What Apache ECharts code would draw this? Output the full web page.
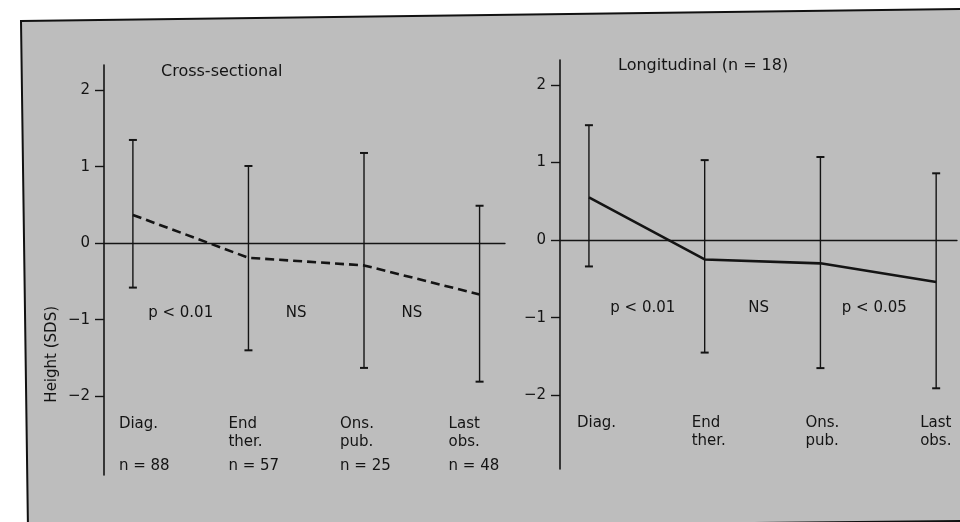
<!DOCTYPE html>
<html>
<head>
<meta charset="utf-8">
<script src="https://cdn.jsdelivr.net/npm/echarts@6/dist/echarts.min.js"></script>
<style>html,body{margin:0;padding:0;background:#fff}#c{width:960px;height:522px}</style>
</head>
<body>
<div id="c"></div>
<script>
const categories = ['Diag.', 'End\nther.', 'Ons.\npub.', 'Last\nobs.'];
const crossN = ['n = 88', 'n = 57', 'n = 25', 'n = 48'];
const crossMean = [0.37, -0.19, -0.29, -0.67];
const crossUpper = [1.35, 1.01, 1.18, 0.49];
const crossLower = [-0.58, -1.40, -1.63, -1.81];
const longMean = [0.55, -0.25, -0.30, -0.54];
const longUpper = [1.48, 1.03, 1.07, 0.86];
const longLower = [-0.34, -1.45, -1.65, -1.91];
const crossP = ['p < 0.01', 'NS', 'NS'];
const longP = ['p < 0.01', 'NS', 'p < 0.05'];
const yTicks = [-2, -1, 0, 1, 2];
const titles = ['Cross-sectional', 'Longitudinal (n = 18)'];
const yName = 'Height (SDS)';

const FONT = 'DejaVu Sans';
const INK = '#141414';
const chart = echarts.init(document.getElementById('c'), null, {renderer: 'canvas'});

function errSeries(gi, upper, lower) {
  return {
    type: 'custom', xAxisIndex: gi, yAxisIndex: gi, z: 3,
    data: upper.map((u, i) => [i, u, lower[i]]),
    renderItem: function (params, api) {
      const i = api.value(0);
      const t = api.coord([i, api.value(1)]);
      const b = api.coord([i, api.value(2)]);
      const w = 4;
      const st = {stroke: INK, lineWidth: 1.4};
      return {type: 'group', children: [
        {type: 'line', shape: {x1: t[0], y1: t[1], x2: b[0], y2: b[1]}, style: st},
        {type: 'line', shape: {x1: t[0] - w, y1: t[1], x2: t[0] + w, y2: t[1]}, style: {stroke: INK, lineWidth: 2}},
        {type: 'line', shape: {x1: b[0] - w, y1: b[1], x2: b[0] + w, y2: b[1]}, style: {stroke: INK, lineWidth: 2}}
      ]};
    }
  };
}

function catLabelSeries(gi, nLabels, offsets) {
  return {
    type: 'custom', xAxisIndex: gi, yAxisIndex: gi, z: 4, silent: true,
    data: categories.map((c, i) => [i, -2]),
    renderItem: function (params, api) {
      const i = api.value(0);
      const p = api.coord([i, api.value(1)]);
      const x = p[0] + offsets[i];
      const children = [{
        type: 'text',
        style: {x: x, y: p[1] + 19, text: categories[params.dataIndex], fill: INK,
          font: '15px "' + FONT + '"', textAlign: 'left', textVerticalAlign: 'top', lineHeight: 18}
      }];
      if (nLabels) {
        children.push({type: 'text', style: {x: x, y: p[1] + 62, text: nLabels[params.dataIndex], fill: INK,
          font: '15px "' + FONT + '"', textAlign: 'left', textVerticalAlign: 'top'}});
      }
      return {type: 'group', children: children};
    }
  };
}

function pLabelSeries(gi, labels, dx, yv) {
  return {
    type: 'custom', xAxisIndex: gi, yAxisIndex: gi, z: 4, silent: true,
    data: labels.map((l, i) => [i + 0.5, yv]),
    renderItem: function (params, api) {
      const p = api.coord([api.value(0), api.value(1)]);
      return {type: 'text', style: {x: p[0] + dx, y: p[1], text: labels[params.dataIndex], fill: INK,
        font: '15px "' + FONT + '"', textAlign: 'center', textVerticalAlign: 'middle'}};
    }
  };
}

function yAxisOpt(gi, min, max) {
  return {
    type: 'value', gridIndex: gi, min: min, max: max,
    splitLine: {show: false},
    axisLine: {show: true, onZero: false, lineStyle: {color: INK, width: 1.6}},
    axisTick: {show: true, length: 9, customValues: yTicks, lineStyle: {color: INK, width: 1.4}},
    axisLabel: {customValues: yTicks, margin: 14, color: INK, fontFamily: FONT, fontSize: 15,
      formatter: v => (v < 0 ? '\u2212' + Math.abs(v) : String(v))}
  };
}
function xAxisOpt(gi, min, max) {
  return {
    type: 'value', gridIndex: gi, min: min, max: max,
    splitLine: {show: false},
    axisLine: {show: true, onZero: true, lineStyle: {color: INK, width: 1.3}},
    axisTick: {show: false}, axisLabel: {show: false}
  };
}

chart.setOption({
  backgroundColor: '#ffffff',
  animation: false,
  graphic: [
    {type: 'polygon', z: -10, shape: {points: [[21, 21], [962, 9], [962, 521], [28, 530]]},
      style: {fill: '#bdbdbd', stroke: '#111', lineWidth: 2}},
    {type: 'text', left: 45, top: 306, rotation: Math.PI / 2, z: 5,
      style: {text: yName, fill: INK, font: '15px "' + FONT + '"'}}
  ],
  title: [
    {text: titles[0], left: 161, top: 64, padding: 0, textStyle: {color: INK, fontFamily: FONT, fontSize: 16, fontWeight: 'normal'}},
    {text: titles[1], left: 618, top: 58, padding: 0, textStyle: {color: INK, fontFamily: FONT, fontSize: 16, fontWeight: 'normal'}}
  ],
  grid: [
    {left: 104, top: 65, width: 401, height: 410},
    {left: 560, top: 60, width: 397, height: 409}
  ],
  xAxis: [xAxisOpt(0, -0.25, 3.22), xAxisOpt(1, -0.25, 3.18)],
  yAxis: [yAxisOpt(0, -3.03, 2.33), yAxisOpt(1, -2.95, 2.32)],
  series: [
    errSeries(0, crossUpper, crossLower),
    errSeries(1, longUpper, longLower),
    {type: 'line', xAxisIndex: 0, yAxisIndex: 0, z: 5, symbol: 'none',
      data: crossMean.map((v, i) => [i, v]),
      lineStyle: {color: INK, width: 2.6, type: [9, 5]}},
    {type: 'line', xAxisIndex: 1, yAxisIndex: 1, z: 5, symbol: 'none',
      data: longMean.map((v, i) => [i, v]),
      lineStyle: {color: INK, width: 2.6, type: 'solid'}},
    catLabelSeries(0, crossN, [-14, -20, -24, -31]),
    catLabelSeries(1, null, [-12, -13, -15, -16]),
    pLabelSeries(0, crossP, -10, -0.91),
    pLabelSeries(1, longP, -4, -0.88)
  ]
});
</script>
</body>
</html>
